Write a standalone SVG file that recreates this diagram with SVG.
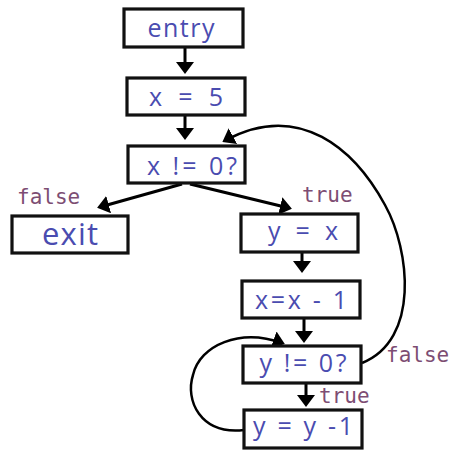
<svg xmlns="http://www.w3.org/2000/svg" width="454" height="469" viewBox="0 0 454 469">
<defs>
<marker id="ah" viewBox="0 0 12 18" refX="9" refY="9" markerWidth="12" markerHeight="18" markerUnits="userSpaceOnUse" orient="auto">
<path d="M0,0 L12,9 L0,18 z" fill="#000"/>
</marker>
</defs>
<style>
.box{fill:#fff;stroke:#111;stroke-width:3.2}
.t{font-family:"Open Sans","Liberation Sans",sans-serif;font-size:25px;fill:#4a4cb0;text-anchor:middle}
.lbl{font-family:"DejaVu Sans Mono","Liberation Mono",monospace;font-size:21px;fill:#7d4d73}
.c{fill:none;stroke:#000;stroke-width:3;marker-end:url(#ah)}
.cc{fill:none;stroke:#000;stroke-width:2.5;marker-end:url(#ah)}
</style>
<rect width="454" height="469" fill="#fff"/>
<g id="connectors">
<path class="c" d="M185,48 V71"/>
<path class="c" d="M185,116 V137"/>
<path class="c" d="M182,184 L100,207"/>
<path class="c" d="M190,184 L289,208"/>
<path class="c" d="M302,253 V270"/>
<path class="c" d="M304,319 V340"/>
<path class="c" d="M306,384 V404"/>
<path class="cc" d="M362,363 C420,340 410,250 385,205 C355,150 300,100 225,140.5"/>
<path class="cc" d="M244,430 C200,435 185,400 193,375 C200,345 240,328 282,343"/>
</g>
<g id="labels">
<text class="lbl" x="17" y="204">false</text>
<text class="lbl" x="302" y="202">true</text>
<text class="lbl" x="386" y="362">false</text>
<text class="lbl" x="319" y="403">true</text>
</g>
<g id="entry"><rect class="box" x="124" y="9" width="119" height="38"/><text class="t" x="181" y="37" textLength="67" lengthAdjust="spacing">entry</text></g>
<g id="x5"><rect class="box" x="127" y="78" width="118" height="37"/><text class="t" x="186" y="106" textLength="74" lengthAdjust="spacing">x = 5</text></g>
<g id="xne0"><rect class="box" x="128" y="146" width="117" height="37"/><text class="t" x="192" y="175" textLength="90" lengthAdjust="spacing">x != 0?</text></g>
<g id="exit"><rect class="box" x="12" y="216" width="116" height="37"/><text class="t" x="70" y="245" style="font-size:31px" textLength="56" lengthAdjust="spacing">exit</text></g>
<g id="yx"><rect class="box" x="241" y="214" width="117" height="38"/><text class="t" x="303" y="240" textLength="70" lengthAdjust="spacing">y = x</text></g>
<g id="xx1"><rect class="box" x="242" y="281" width="118" height="37"/><text class="t" x="301" y="309" textLength="92" lengthAdjust="spacing">x=x - 1</text></g>
<g id="yne0"><rect class="box" x="243" y="346" width="118" height="37"/><text class="t" x="303" y="372" textLength="87" lengthAdjust="spacing">y != 0?</text></g>
<g id="yy1"><rect class="box" x="244" y="410" width="118" height="38"/><text class="t" x="303" y="435" textLength="100" lengthAdjust="spacing">y = y -1</text></g>
</svg>
